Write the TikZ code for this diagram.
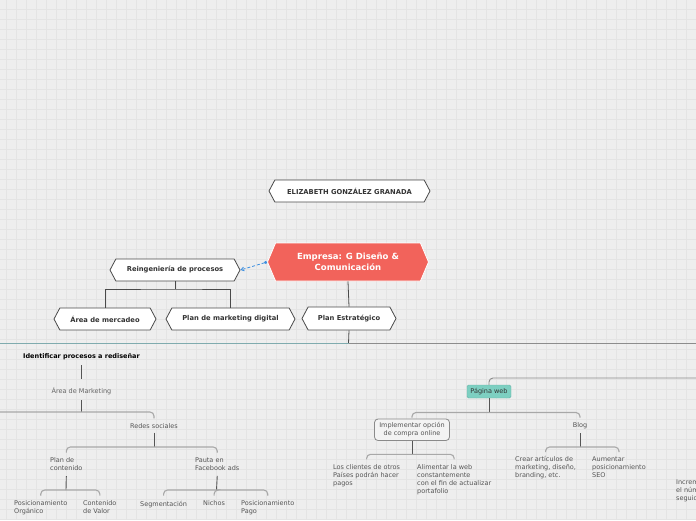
\documentclass[tikz,border=0pt]{standalone}
\usepackage{fontspec}
\setmainfont{DejaVu Sans}
\usetikzlibrary{shapes.symbols,arrows.meta}
\definecolor{bgc}{HTML}{EEEEEE}
\definecolor{gridc}{HTML}{E4E4E4}
\definecolor{hexline}{HTML}{4A4A4A}
\definecolor{darktext}{HTML}{333333}
\definecolor{empred}{HTML}{F2635B}
\definecolor{linkblue}{HTML}{3D8FE0}
\definecolor{tealline}{HTML}{7FABAE}
\definecolor{greyline}{HTML}{8C8C8C}
\definecolor{stemc}{HTML}{555555}
\definecolor{brackc}{HTML}{A8A8A8}
\definecolor{leaftext}{HTML}{555555}
\definecolor{webteal}{HTML}{7DCFC1}
\definecolor{webedge}{HTML}{6AB3A8}
\definecolor{implfill}{HTML}{F3F3F3}
\definecolor{impledge}{HTML}{8A8A8A}
\begin{document}
\begin{tikzpicture}[x=1pt,y=-1pt,
  hexbox/.style={shape=signal, signal to=west and east, signal pointer angle=124,
    draw=hexline, line width=0.8pt, fill=white, inner sep=0pt, minimum height=22pt,
    font=\bfseries\fontsize{6.75}{8}\selectfont, text=darktext},
  leaf/.style={inner sep=0pt, align=left, text=leaftext, font=\fontsize{6.5}{8}\selectfont},
  conn/.style={draw=hexline, line width=0.8pt},
  stem/.style={draw=stemc, line width=0.9pt},
  bracket/.style={draw=brackc, line width=1.1pt, rounded corners=4pt},
  bluelink/.style={draw=linkblue, line width=0.8pt, dash pattern=on 3pt off 2pt,
    {Circle[length=3pt]}-{Straight Barb[length=3pt,width=4pt]}}
]
\useasboundingbox (0,0) rectangle (696,520);
\clip (0,0) rectangle (696,520);
\fill[bgc] (0,0) rectangle (696,520);
\foreach \x in {6,16,...,696} \draw[gridc, line width=0.5pt] (\x,0) -- (\x,520);
\foreach \y in {9.5,19.5,...,519.5} \draw[gridc, line width=0.5pt] (0,\y) -- (696,\y);

% ---- top nodes
\node[hexbox, minimum width=161pt] (eliz) at (349.5,191) {ELIZABETH GONZÁLEZ GRANADA};
\node[hexbox, minimum width=161pt, minimum height=38pt, signal pointer angle=134,
  fill=empred, draw=white, text=white, align=center,
  font=\bfseries\fontsize{8.5}{10.7}\selectfont] (emp) at (348,262) {Empresa: G Diseño \&\\Comunicación};
\node[hexbox, minimum width=130pt] (rein) at (175,270) {Reingeniería de procesos};
\node[hexbox, minimum width=102pt] (area) at (105,319) {Área de mercadeo};
\node[hexbox, minimum width=129pt] (plan) at (230.5,319) {Plan de marketing digital};
\node[hexbox, minimum width=94pt, minimum height=23pt] (pe) at (349,318.5) {Plan Estratégico};

\draw[bluelink] (emp.west) -- (rein.east);
\coordinate (jr) at (175,289);
\draw[conn] (rein.south) -- (jr);
\draw[conn] (area.north) |- (jr) -| (plan.north);
\draw[conn] (emp.south) -- (pe.north);
\coordinate (hbar) at (348.5,343.5);
\coordinate (ledge) at (0,343.5);
\coordinate (redge) at (696,343.5);
\draw[conn] (pe.south) -- (hbar);
\draw[tealline, line width=1.3pt] (ledge) -- (hbar);
\draw[greyline, line width=1.6pt] (hbar) -- (redge);

% ---- left branch
\node[inner sep=0pt, text=black, font=\bfseries\fontsize{6.5}{8}\selectfont] (ident) at (81.5,357) {Identificar procesos a rediseñar};
\node[leaf, text=leaftext!90] (amk) at (81.5,391.5) {Área de Marketing};
\draw[stem] ([yshift=-5pt]ident.south) -- ([yshift=9pt]amk.north);
\coordinate (jamk) at (81.5,412);
\coordinate (ledge2) at (0,412);
\draw[stem] ([yshift=-5pt]amk.south) -- (jamk);
\node[leaf] (redes) at (154,426) {Redes sociales};
\draw[bracket] (ledge2) -| ([yshift=5pt]redes.north);

\coordinate (jredes) at (154,447);
\draw[stem] ([yshift=-4pt]redes.south) -- (jredes);
\node[leaf, anchor=north west] (pdc) at (50,457.6) {Plan de\\contenido};
\node[leaf, anchor=north west] (pauta) at (195,457.6) {Pauta en\\Facebook ads};
\draw[bracket] ([yshift=5pt]pdc.north) |- (jredes) -| ([yshift=5pt]pauta.north);

\node[leaf, anchor=north west] (porg) at (14,500.6) {Posicionamiento\\Orgánico};
\node[leaf, anchor=north west] (cval) at (83,500.6) {Contenido\\de Valor};
\coordinate (jpdc) at (66,490);
\draw[stem] ([yshift=-5pt]pdc.south) -- (jpdc);
\draw[bracket] ([yshift=5pt]porg.north) |- (jpdc) -| ([yshift=5pt]cval.north);

\node[leaf, anchor=north west] (segm) at (140,500.6) {Segmentación};
\node[leaf, anchor=north west] (nich) at (203,500.6) {Nichos};
\node[leaf, anchor=north west] (ppago) at (241,500.6) {Posicionamiento\\Pago};
\coordinate (jpauta) at (216.5,490);
\draw[stem] ([yshift=-5pt]pauta.south) -- (jpauta);
\draw[bracket] ([yshift=5pt]segm.north) |- (jpauta) -| ([yshift=5pt]ppago.north);
\draw[bracket] (jpauta) -| ([yshift=5pt]nich.north);

% ---- right branch
\coordinate (redge2) at (696,378);
\node[draw=webedge, fill=webteal, rounded corners=1.5pt, inner sep=0pt, minimum width=44pt,
  minimum height=13pt, text=darktext, font=\fontsize{6.5}{8}\selectfont] (pweb) at (489,391.5) {Página web};
\draw[greyline, line width=0.9pt, rounded corners=4pt] (redge2) -| (pweb.north);

\node[draw=impledge, fill=implfill, rounded corners=3.5pt, line width=0.8pt, inner sep=0pt,
  minimum width=75pt, minimum height=21.5pt, align=center, text=leaftext,
  font=\fontsize{6.5}{8.3}\selectfont] (impl) at (412,429.75) {Implementar opción\\ de compra online};
\node[leaf] (blog) at (580,426) {Blog};
\coordinate (jpw) at (489,412.5);
\draw[stem] (pweb.south) -- (jpw);
\draw[bracket] ([yshift=1pt]impl.north) |- (jpw) -| ([yshift=5pt]blog.north);

\node[leaf, anchor=north west] (loscl) at (333,464.4) {Los clientes de otros\\Países podrán hacer\\pagos};
\node[leaf, anchor=north west] (alim) at (417,464.4) {Alimentar la web\\constantemente\\con el fin de actualizar\\portafolio};
\coordinate (jimpl) at (412,454.3);
\draw[stem] (impl.south) -- (jimpl);
\draw[bracket] ([yshift=5pt]loscl.north) |- (jimpl) -| ([yshift=5pt]alim.north);

\node[leaf, anchor=north west] (crear) at (515,456.2) {Crear artículos de\\marketing, diseño,\\branding, etc.};
\node[leaf, anchor=north west] (aum) at (592,456.2) {Aumentar\\posicionamiento\\SEO};
\coordinate (jblog) at (580,447);
\draw[stem] ([yshift=-4pt]blog.south) -- (jblog);
\draw[bracket] ([yshift=4pt]crear.north) |- (jblog) -| ([yshift=4pt]aum.north);

\node[leaf, anchor=north west] (incr) at (676,480) {Incrementar\\el número de\\seguidores};
\end{tikzpicture}
\end{document}
